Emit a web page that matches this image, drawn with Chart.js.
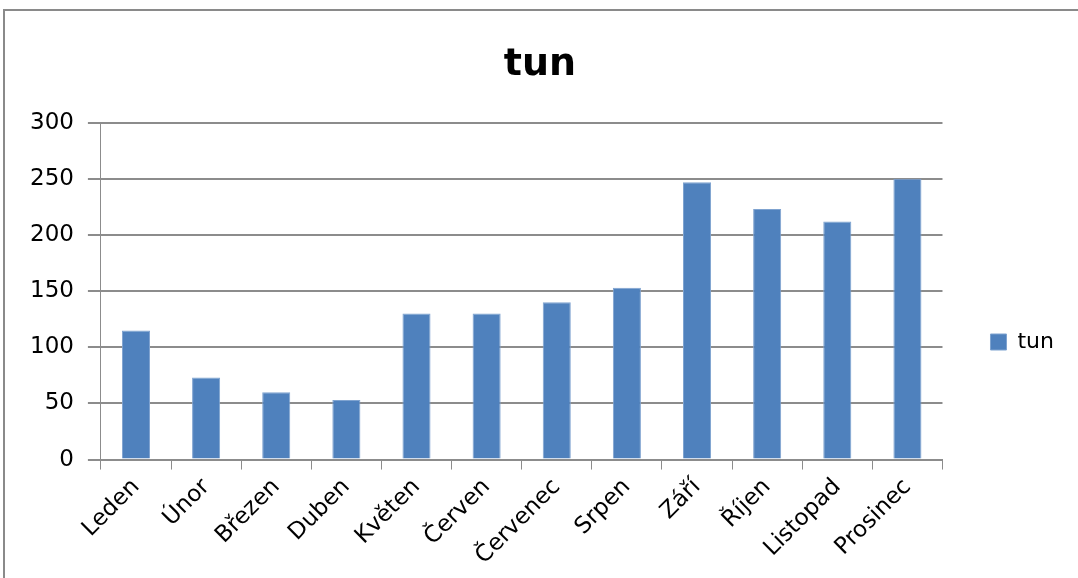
<!DOCTYPE html>
<html>
<head>
<meta charset="utf-8">
<script src="https://cdn.jsdelivr.net/npm/chart.js@4/dist/chart.umd.min.js"></script>
<style>
  html, body { margin: 0; padding: 0; background: #fff; }
  #wrap { position: relative; width: 1078px; height: 578px; overflow: hidden; }
  #frame { position: absolute; left: 3px; top: 9px; width: 1100px; height: 600px;
           border-left: 2px solid #8a8a8a; border-top: 2px solid #8a8a8a; }
  canvas { position: absolute; left: 0; top: 0; }
</style>
</head>
<body>
<div id="wrap">
  <div id="frame"></div>
  <canvas id="chart" width="1078" height="578"></canvas>
</div>
<script>
// měsíce a hodnoty (tun)
const months = ["Leden", "Únor", "Březen", "Duben", "Květen", "Červen",
                "Červenec", "Srpen", "Září", "Říjen", "Listopad", "Prosinec"];
const tun = [115, 73, 60, 53, 130, 130, 140, 153, 247, 223, 212, 250];
const yTicks = [0, 50, 100, 150, 200, 250, 300];

const font = "'DejaVu Sans', Verdana, sans-serif";
const gridColor = "#8c8c8c";

new Chart(document.getElementById("chart"), {
  type: 'bar',
  data: {
    labels: months,
    datasets: [{
      label: "tun",
      data: tun,
      backgroundColor: "#4f81bd",
      borderColor: "#7fa3d0",
      borderWidth: 1,
      barPercentage: 0.4,
      categoryPercentage: 1.0
    }]
  },
  options: {
    responsive: false,
    animation: false,
    layout: { padding: { left: 16, right: 14, top: 32, bottom: 4 } },
    plugins: {
      title: {
        display: true,
        text: "tun",
        color: "#000",
        font: { family: font, size: 38, weight: 'bold' },
        padding: { top: 10, bottom: 35 }
      },
      legend: {
        position: 'right',
        fullSize: false,
        align: 'start',
        title: { display: true, text: " ", font: { size: 12 }, padding: { top: 146, bottom: 0 } },
        labels: {
          color: "#000",
          font: { family: font, size: 22 },
          boxWidth: 16,
          boxHeight: 16,
          padding: 48
        }
      },
      tooltip: { enabled: false }
    },
    scales: {
      x: {
        grid: {
          display: true,
          drawOnChartArea: false,
          drawTicks: true,
          tickLength: 10,
          color: gridColor,
          offset: true
        },
        border: { color: gridColor, width: 2 },
        ticks: {
          color: "#000",
          font: { family: font, size: 23 },
          maxRotation: 45,
          minRotation: 45,
          autoSkip: false,
          padding: 4
        }
      },
      y: {
        min: 0,
        max: 300,
        afterBuildTicks: axis => { axis.ticks = yTicks.map(v => ({ value: v })); },
        grid: {
          color: gridColor,
          lineWidth: 2,
          tickLength: 13,
          drawTicks: true
        },
        border: { color: gridColor, width: 1 },
        ticks: {
          color: "#000",
          font: { family: font, size: 23 },
          padding: 14
        }
      }
    }
  }
});
</script>
</body>
</html>
